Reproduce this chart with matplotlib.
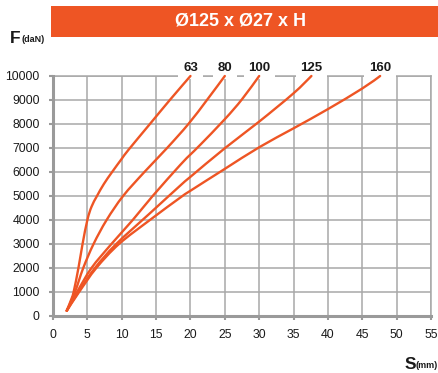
import matplotlib
matplotlib.use('Agg')
import matplotlib.pyplot as plt
from matplotlib import font_manager
from matplotlib.patches import Rectangle, PathPatch
from matplotlib.path import Path

names = {f.name for f in font_manager.fontManager.ttflist}
NARROW = 'Liberation Sans Narrow' if 'Liberation Sans Narrow' in names else 'Liberation Sans'
plt.rcParams['font.family'] = [NARROW, 'DejaVu Sans']

# ---- data ----
title = 'Ø125 x Ø27 x H'
series_labels = ['63', '80', '100', '125', '160']
s63_x = [2.0, 2.6, 3.0, 3.7, 4.3, 5.0, 5.6, 6.4, 7.4, 8.6, 10.0, 11.0, 14.1, 17.0, 20.0]
s63_y = [220, 650, 1000, 2000, 3000, 4000, 4550, 5000, 5500, 6000, 6550, 6930, 8000, 9000, 10000]
s80_x = [2.0, 3.2, 4.4, 5.9, 7.8, 10.2, 13.3, 16.6, 19.7, 22.4, 25.0]
s80_y = [220, 1000, 2000, 3000, 4000, 5000, 6000, 7000, 8000, 9000, 10000]
s100_x = [2.0, 3.5, 5.6, 8.5, 11.6, 14.5, 18.5, 20.0, 21.4, 25.0, 27.5, 30.0]
s100_y = [220, 1000, 2000, 3000, 4000, 5000, 6290, 6730, 7125, 8200, 9030, 10000]
s125_x = [2.0, 3.7, 6.1, 9.2, 14.1, 18.5, 20.0, 25.0, 30.0, 35.0, 37.6]
s125_y = [220, 1000, 2000, 3000, 4280, 5430, 5800, 6990, 8100, 9280, 10000]
s160_x = [2.0, 3.8, 6.3, 9.6, 14.1, 18.5, 20.0, 25.0, 30.0, 35.0, 40.0, 45.0, 47.6]
s160_y = [220, 1000, 2000, 3000, 4000, 4930, 5220, 6130, 7030, 7820, 8620, 9480, 10000]
x_ticks = list(range(0, 56, 5))
y_ticks = list(range(0, 10001, 1000))

series = [(s63_x, s63_y), (s80_x, s80_y), (s100_x, s100_y), (s125_x, s125_y), (s160_x, s160_y)]

ORANGE = '#EE5524'
GRID = '#A8A8A8'
SPINE = '#9A9A9A'
TXT = '#1a1a1a'

W, H = 438, 373
fig = plt.figure(figsize=(W / 100, H / 100), dpi=100)
ax = fig.add_axes([53 / W, 57 / H, 378 / W, 240 / H])

ax.set_xlim(0, 55)
ax.set_ylim(0, 10000)
ax.set_xticks(x_ticks)
ax.set_yticks(y_ticks)
ax.set_xticklabels([str(v) for v in x_ticks])
ax.set_yticklabels([str(v) for v in y_ticks])
ax.grid(True, color=GRID, lw=1.1)
ax.set_axisbelow(True)
ax.axhline(10000, color=GRID, lw=1.1, clip_on=False, zorder=0.5)
ax.axvline(55, color=GRID, lw=1.1, clip_on=False, zorder=0.5)
for s in ['top', 'right']:
    ax.spines[s].set_visible(False)
for s in ['left', 'bottom']:
    ax.spines[s].set_color(SPINE)
    ax.spines[s].set_linewidth(2.2)
ax.tick_params(direction='out', length=3, width=1.5, color=SPINE,
               labelsize=10.5 if NARROW != 'Liberation Sans' else 8.8,
               labelcolor=TXT, pad=6.5)


def smooth_path(xs, ys):
    """Smooth curve through the read points (Catmull-Rom as cubic Bezier),
    drawn in data coordinates through the axes transform."""
    pts = list(zip(xs, ys))
    verts = [pts[0]]
    codes = [Path.MOVETO]
    n = len(pts)
    for i in range(n - 1):
        p0 = pts[i - 1] if i > 0 else pts[i]
        p1 = pts[i]
        p2 = pts[i + 1]
        p3 = pts[i + 2] if i + 2 < n else pts[i + 1]
        c1 = (p1[0] + (p2[0] - p0[0]) / 6, p1[1] + (p2[1] - p0[1]) / 6)
        c2 = (p2[0] - (p3[0] - p1[0]) / 6, p2[1] - (p3[1] - p1[1]) / 6)
        verts += [c1, c2, p2]
        codes += [Path.CURVE4] * 3
    return Path(verts, codes)


for (xs, ys), lab in zip(series, series_labels):
    patch = PathPatch(smooth_path(xs, ys), fc='none', ec=ORANGE, lw=1.7,
                      transform=ax.transData, clip_on=False, zorder=4,
                      capstyle='round', joinstyle='round')
    ax.add_patch(patch)
    ax.text(xs[-1], 10208, lab, ha='center', va='baseline', fontsize=9.5,
            fontweight='bold', color=TXT, zorder=3, clip_on=False,
            bbox=dict(boxstyle='square,pad=0.35', fc='white', ec='none'))

# banner
fig.add_artist(Rectangle((50.7 / W, 1 - 36.7 / H), 1 - 50.7 / W, 30.7 / H,
                         transform=fig.transFigure, color=ORANGE, lw=0))
fig.text(240.5 / W, 1 - 21.5 / H, title, color='white', fontweight='bold',
         fontsize=13, ha='center', va='center', family=['Liberation Sans', 'DejaVu Sans'])

# axis labels
fig.text(10 / W, 1 - 43 / H, 'F', fontweight='bold', fontsize=12.5, ha='left',
         va='baseline', color=TXT)
fig.text(21 / W, 1 - 42 / H, '(daN)', fontweight='bold', fontsize=6.5, ha='left',
         va='baseline', color=TXT)
fig.text(405 / W, 1 - 369 / H, 'S', fontweight='bold', fontsize=12.5, ha='left',
         va='baseline', color=TXT)
fig.text(415 / W, 1 - 368 / H, '(mm)', fontweight='bold', fontsize=6.5, ha='left',
         va='baseline', color=TXT)

fig.savefig('out.png', dpi=100)
